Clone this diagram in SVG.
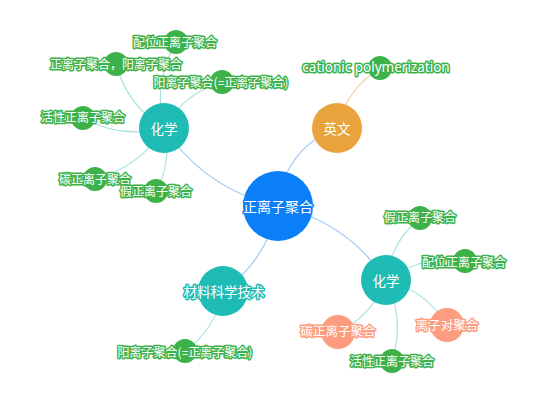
<svg xmlns="http://www.w3.org/2000/svg" width="536" height="404" viewBox="0 0 536 404">
<style>
text{font-family:"Noto Sans CJK SC","Noto Sans",sans-serif;text-anchor:middle;dominant-baseline:central;fill:#fff;paint-order:stroke;stroke-linejoin:round;stroke-width:3px}
.e{fill:none;stroke-width:1.2}
.eb{stroke:#9cc8f6}
.et{stroke:#a6e3e0}
.eo{stroke:#f4d2a4}
.blue{fill:#0a7ff7}
.teal{fill:#1ebcb5}
.orange{fill:#e8a33d}
.green{fill:#3db24b}
.salmon{fill:#fe9c7f}
.tb{stroke:#0a7ff7;font-size:14px}
.tt{stroke:#1ebcb5;font-size:13.5px}
.to{stroke:#e8a33d;font-size:13.5px}
.tg{stroke:#3db24b;font-size:12px}
.ts{stroke:#fe9c7f;font-size:12.5px}
.lat{font-family:"Noto Sans",sans-serif;font-size:13.5px}
</style>
<rect width="536" height="404" fill="#fff"/>
<g id="connectors">
<path class="e eb" d="M278,206 Q205.4,189.8 164,128"/>
<path class="e eb" d="M278,206 Q284.1,149.3 337,128"/>
<path class="e eb" d="M278,206 Q346.8,221.4 386,280"/>
<path class="e eb" d="M278,206 Q267.5,259.5 223,291"/>
<path class="e et" d="M164,128 Q152.8,82.6 176,42"/>
<path class="e et" d="M164,128 Q127.2,105.6 116,64"/>
<path class="e et" d="M164,128 Q183.8,93.4 222,82"/>
<path class="e et" d="M164,128 Q121.5,139.2 83,118"/>
<path class="e et" d="M164,128 Q139.7,167.3 95,179"/>
<path class="e et" d="M164,128 Q172.6,161.1 156,191"/>
<path class="e et" d="M386,280 Q390.6,242.2 420,218"/>
<path class="e et" d="M386,280 Q421.7,254.7 465,261"/>
<path class="e et" d="M386,280 Q425.5,290.3 447,325"/>
<path class="e et" d="M386,280 Q405.2,319.3 392,361"/>
<path class="e et" d="M386,280 Q372.4,315.6 338,332"/>
<path class="e et" d="M223,291 Q216,328.6 185,351"/>
<path class="e eo" d="M337,128 Q346.5,89.4 380,68"/>
</g>
<g id="n-root"><circle class="blue" cx="278" cy="206" r="35"/><text class="tb" x="278" y="206">正离子聚合</text></g>
<g id="n-en"><circle class="orange" cx="337" cy="128" r="25"/><text class="to" x="337" y="128">英文</text></g>
<g id="n-chemL"><circle class="teal" cx="164" cy="128" r="25"/><text class="tt" x="164" y="128">化学</text></g>
<g id="n-chemR"><circle class="teal" cx="386" cy="280" r="25"/><text class="tt" x="386" y="280">化学</text></g>
<g id="n-mat"><circle class="teal" cx="223" cy="291" r="25"/><text class="tt" x="224" y="291">材料科学技术</text></g>
<g id="l-cat"><circle class="green" cx="380" cy="68" r="12"/><text class="tg lat" x="376" y="67">cationic polymerization</text></g>
<g id="l1"><circle class="green" cx="176" cy="42" r="12"/><text class="tg" x="175" y="41">配位正离子聚合</text></g>
<g id="l2"><circle class="green" cx="116" cy="64" r="12"/><text class="tg" x="116" y="63">正离子聚合，阳离子聚合</text></g>
<g id="l3"><circle class="green" cx="222" cy="82" r="12"/><text class="tg" x="221" y="81">阳离子聚合(=正离子聚合)</text></g>
<g id="l4"><circle class="green" cx="83" cy="118" r="12"/><text class="tg" x="83" y="116">活性正离子聚合</text></g>
<g id="l5"><circle class="green" cx="95" cy="179" r="12"/><text class="tg" x="95" y="178">碳正离子聚合</text></g>
<g id="l6"><circle class="green" cx="156" cy="191" r="12"/><text class="tg" x="156" y="190">假正离子聚合</text></g>
<g id="r1"><circle class="green" cx="420" cy="218" r="12"/><text class="tg" x="420" y="216">假正离子聚合</text></g>
<g id="r2"><circle class="green" cx="465" cy="261" r="12"/><text class="tg" x="464" y="261">配位正离子聚合</text></g>
<g id="r3"><circle class="salmon" cx="447" cy="325" r="17"/><text class="ts" x="447" y="324">离子对聚合</text></g>
<g id="r4"><circle class="green" cx="392" cy="361" r="12"/><text class="tg" x="392" y="360">活性正离子聚合</text></g>
<g id="r5"><circle class="salmon" cx="338" cy="332" r="17"/><text class="ts" x="338" y="330">碳正离子聚合</text></g>
<g id="m1"><circle class="green" cx="185" cy="351" r="12"/><text class="tg" x="185" y="351">阳离子聚合(=正离子聚合)</text></g>
</svg>
